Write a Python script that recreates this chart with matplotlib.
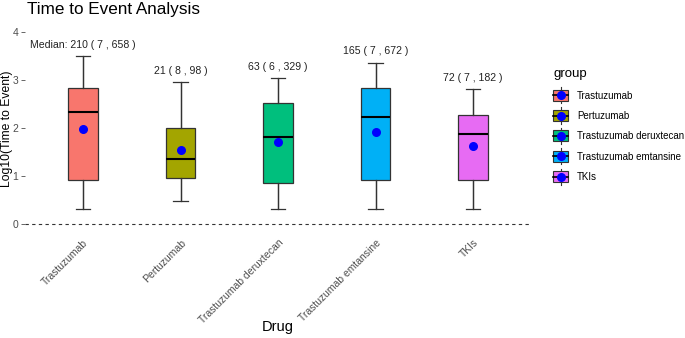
import numpy as np
import matplotlib
matplotlib.use("Agg")
import matplotlib.pyplot as plt
from matplotlib.patches import Rectangle
from matplotlib.lines import Line2D
from matplotlib.legend_handler import HandlerBase

plt.rcParams['font.family'] = ['Liberation Sans', 'DejaVu Sans']

# data (log10 scale)
drugs = ["Trastuzumab", "Pertuzumab", "Trastuzumab deruxtecan",
         "Trastuzumab emtansine", "TKIs"]
colors = ["#F8766D", "#A3A500", "#00BF7D", "#00B0F6", "#E76BF3"]
q1 = [0.91, 0.95, 0.85, 0.91, 0.91]
medians = [2.33, 1.35, 1.81, 2.23, 1.87]
q3 = [2.83, 2.00, 2.52, 2.84, 2.26]
whis_lo = [0.30, 0.48, 0.30, 0.30, 0.30]
whis_hi = [3.49, 2.95, 3.04, 3.36, 2.81]
means = [1.97, 1.54, 1.70, 1.92, 1.63]
labels = ["Median: 210 ( 7 , 658 )", "21 ( 8 , 98 )", "63 ( 6 , 329 )",
          "165 ( 7 , 672 )", "72 ( 7 , 182 )"]

fig = plt.figure(figsize=(6.85, 3.38), dpi=100)
ax = fig.add_axes([0.0358, 0.3136, 0.7401, 0.613])

pos = np.arange(1, len(drugs) + 1)
stats = []
for i in range(len(drugs)):
    stats.append(dict(med=medians[i], q1=q1[i], q3=q3[i],
                      whislo=whis_lo[i], whishi=whis_hi[i], fliers=[]))

bp = ax.bxp(stats, positions=pos, widths=0.3, patch_artist=True,
            showfliers=False,
            boxprops=dict(edgecolor="#333333", linewidth=0.9),
            whiskerprops=dict(color="#333333", linewidth=0.9),
            capprops=dict(color="#333333", linewidth=0.9),
            medianprops=dict(color="black", linewidth=1.5))
for patch, c in zip(bp['boxes'], colors):
    patch.set_facecolor(c)

# whisker line through the box, like the ggplot errorbar layer
ax.vlines(pos, whis_lo, whis_hi, color="#333333", linewidth=0.9, zorder=1.5)

ax.scatter(pos, means, color="blue", s=30, zorder=4)

for i in range(len(drugs)):
    ax.text(pos[i], whis_hi[i] + 0.24, labels[i], ha="center", va="center",
            fontsize=7.6, color="#222222")

ax.axhline(0, linestyle=(0, (3, 3)), color="#333333", linewidth=0.8)

ax.set_xlim(0.4, 5.6)
ax.set_ylim(-0.17, 4.15)
ax.set_yticks([0, 1, 2, 3, 4])
ax.set_xticks(pos)
ax.set_xticklabels(drugs, rotation=45, ha="right", va="top",
                   rotation_mode="anchor", fontsize=7.5, color="#4D4D4D")
ax.tick_params(axis="x", length=0, pad=4)
ax.tick_params(axis="y", length=3, width=0.6, color="#4D4D4D",
               labelsize=7.5, labelcolor="#4D4D4D", pad=1.5)
for s in ax.spines.values():
    s.set_visible(False)

ax.set_xlabel("Drug", fontsize=10.5, va="center")
ax.xaxis.set_label_coords(0.5, -0.458)
ax.set_ylabel("Log10(Time to Event)", fontsize=8.7, va="center")
ax.yaxis.set_label_coords(-0.0345, 0.5)
fig.text(0.04, 1 - 14 / 338, "Time to Event Analysis", fontsize=12.3,
         ha="left", va="baseline")


class BoxKey(HandlerBase):
    # small boxplot glyph for the legend, sized from the font size
    def create_artists(self, legend, orig_handle, xdescent, ydescent,
                       width, height, fontsize, trans):
        c = orig_handle.get_facecolor()
        cx = width / 2 - xdescent
        cy = height / 2 - ydescent
        bw, bh = width * 0.98, fontsize * 1.12
        r = Rectangle((cx - bw / 2, cy - bh / 2), bw, bh, facecolor=c,
                      edgecolor="#333333", linewidth=0.8, transform=trans)
        v = Line2D([cx, cx], [cy - fontsize * 0.83, cy + fontsize * 0.83],
                   color="#333333", linewidth=0.8, transform=trans)
        h = Line2D([cx - bw / 2, cx + bw / 2], [cy, cy], color="black",
                   linewidth=1.2, transform=trans)
        d = Line2D([cx], [cy], marker="o", color="blue", markersize=5.5,
                   linestyle="none", transform=trans)
        return [v, r, h, d]


handles = [Rectangle((0, 0), 1, 1, facecolor=c) for c in colors]
leg = fig.legend(handles, drugs, handler_map={Rectangle: BoxKey()},
                 title="group", loc="upper left",
                 bbox_to_anchor=(0.802, 0.81), frameon=False,
                 fontsize=7.0, title_fontsize=9.5, handlelength=1.57,
                 labelspacing=1.07, handletextpad=0.85,
                 borderaxespad=0)
leg._legend_box.align = "left"

fig.savefig("out.png", dpi=100)
